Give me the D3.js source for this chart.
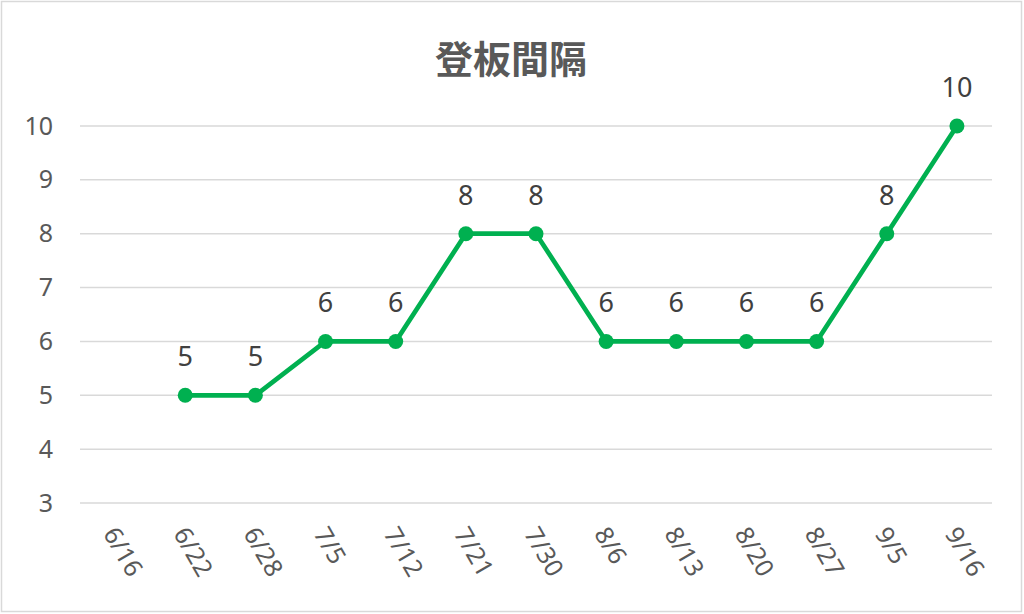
<!DOCTYPE html>
<html>
<head>
<meta charset="utf-8">
<script src="https://cdn.jsdelivr.net/npm/d3@7"></script>
<style>
  body { margin: 0; background: #fff; }
  svg { display: block; }
</style>
</head>
<body>
<svg id="chart" width="1024" height="614"></svg>
<script>
// data
const dates = ["6/16", "6/22", "6/28", "7/5", "7/12", "7/21", "7/30", "8/6", "8/13", "8/20", "8/27", "9/5", "9/16"];
const intervals = [null, 5, 5, 6, 6, 8, 8, 6, 6, 6, 6, 8, 10];
const yTicks = [3, 4, 5, 6, 7, 8, 9, 10];
const title = "登板間隔";

const svg = d3.select("#chart");
const W = 1024, H = 614;
const margin = { left: 80, right: 32, top: 126, bottom: 111 };

// chart border
svg.append("rect")
  .attr("x", 1.5).attr("y", 1.5)
  .attr("width", W - 4).attr("height", H - 4)
  .attr("fill", "#fff")
  .attr("stroke", "#d9d9d9")
  .attr("stroke-width", 1.5);

const x = d3.scaleBand()
  .domain(dates)
  .range([margin.left, W - margin.right]);

const y = d3.scaleLinear()
  .domain([3, 10])
  .range([H - margin.bottom, margin.top]);

// title
svg.append("text")
  .attr("x", 511).attr("y", 56)
  .attr("text-anchor", "middle")
  .attr("dominant-baseline", "central")
  .style("font-family", "'Noto Sans CJK JP', sans-serif")
  .style("font-weight", "bold")
  .style("font-size", "38px")
  .style("fill", "#595959")
  .text(title);

// gridlines
svg.append("g")
  .selectAll("line")
  .data(yTicks)
  .enter()
  .append("line")
  .attr("x1", margin.left)
  .attr("x2", W - margin.right)
  .attr("y1", d => y(d))
  .attr("y2", d => y(d))
  .attr("stroke", "#d9d9d9")
  .attr("stroke-width", 1.5);

// y axis labels
const yAxis = d3.axisLeft(y).tickValues(yTicks).tickFormat(d3.format("d")).tickSize(0).tickPadding(0);
const yg = svg.append("g")
  .attr("transform", `translate(${margin.left - 27},0)`)
  .call(yAxis);
yg.select(".domain").remove();
yg.selectAll("text")
  .style("font-family", "'Noto Sans', sans-serif")
  .style("font-size", "25px")
  .style("fill", "#595959");

// x axis labels, rotated
const xAxis = d3.axisBottom(x).tickSize(0).tickPadding(0);
const xg = svg.append("g")
  .attr("transform", `translate(0,${H - margin.bottom + 26})`)
  .call(xAxis);
xg.select(".domain").remove();
xg.selectAll("text")
  .attr("text-anchor", "start")
  .attr("dy", "0.35em")
  .attr("y", 0)
  .attr("transform", "translate(-5,0) rotate(60)")
  .style("font-family", "'Noto Sans', sans-serif")
  .style("font-size", "25px")
  .style("fill", "#595959");

// line
const points = dates.map((d, i) => ({ date: d, value: intervals[i] }));
const line = d3.line()
  .defined(d => d.value != null)
  .x(d => x(d.date) + x.bandwidth() / 2)
  .y(d => y(d.value));

svg.append("path")
  .datum(points)
  .attr("d", line)
  .attr("fill", "none")
  .attr("stroke", "#00b050")
  .attr("stroke-width", 4.7)
  .attr("stroke-linejoin", "round");

const valid = points.filter(d => d.value != null);

svg.append("g")
  .selectAll("circle")
  .data(valid)
  .enter()
  .append("circle")
  .attr("cx", d => x(d.date) + x.bandwidth() / 2)
  .attr("cy", d => y(d.value))
  .attr("r", 7.5)
  .attr("fill", "#00b050");

// data labels
svg.append("g")
  .selectAll("text")
  .data(valid)
  .enter()
  .append("text")
  .attr("x", d => x(d.date) + x.bandwidth() / 2)
  .attr("y", d => y(d.value) - 29)
  .attr("text-anchor", "middle")
  .style("font-family", "'Noto Sans', sans-serif")
  .style("font-size", "27px")
  .style("fill", "#404040")
  .text(d => d.value);
</script>
</body>
</html>
